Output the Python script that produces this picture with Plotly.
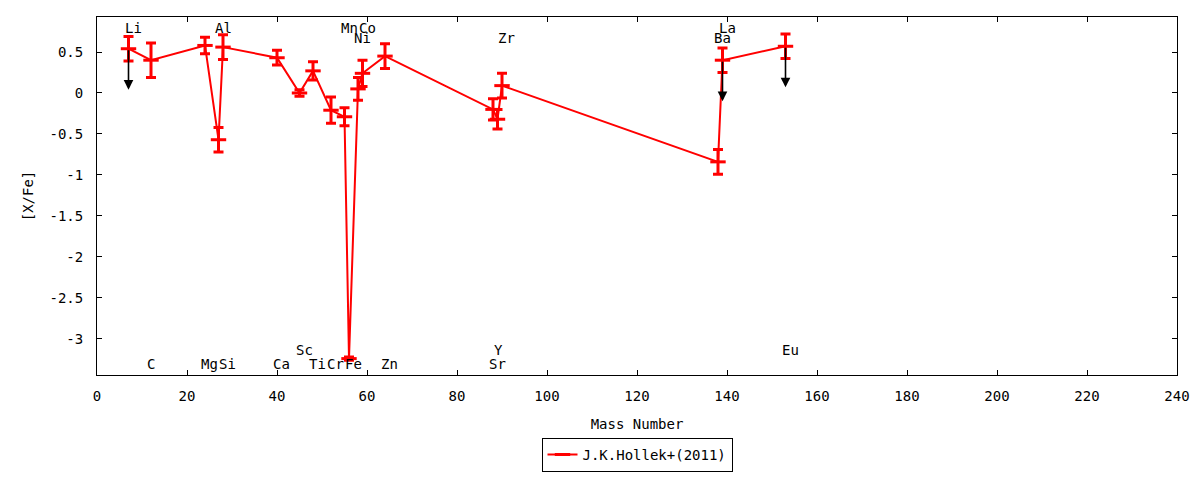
import plotly.graph_objects as go

# Hollek et al. (2011) abundances vs mass number
elements = ["Li", "C", "Mg", "Al", "Si", "Ca", "Sc", "Ti", "Cr", "Mn",
            "Fe", "Ni", "Co", "Zn", "Sr", "Y", "Zr", "Ba", "La", "Eu"]
mass = [7, 12, 24, 27, 28, 40, 45, 48, 52, 55,
        56, 58, 59, 64, 88, 89, 90, 138, 139, 153]
x_fe = [0.54, 0.40, 0.58, -0.57, 0.56, 0.43, 0.0, 0.27, -0.21, -0.29,
        -3.24, 0.05, 0.24, 0.45, -0.20, -0.32, 0.09, -0.84, 0.40, 0.57]
err = [0.15, 0.21, 0.10, 0.15, 0.15, 0.09, 0.04, 0.11, 0.16, 0.11,
       0.02, 0.14, 0.16, 0.15, 0.13, 0.12, 0.15, 0.15, 0.15, 0.15]
upper_limit = ["Li", "La", "Eu"]
# label row for each element: top/bottom, high/low
label_row = ["th", "bl", "bl", "th", "bl", "bl", "bh", "bl", "bl", "th",
             "bl", "tl", "th", "bl", "bl", "bh", "tl", "tl", "th", "bh"]

x_ticks = list(range(0, 241, 20))
y_ticks = [0.5, 0, -0.5, -1, -1.5, -2, -2.5, -3]
y_tick_text = ["0.5", "0", "-0.5", "-1", "-1.5", "-2", "-2.5", "-3"]

ROW_Y = {"th": 0.79, "tl": 0.67, "bh": -3.13, "bl": -3.30}
FONT = "DejaVu Sans Mono"
RED = "#ff0000"

fig = go.Figure()

fig.add_trace(go.Scatter(
    x=mass, y=x_fe,
    mode="lines+markers",
    name="J.K.Hollek+(2011)",
    line=dict(color=RED, width=2),
    marker=dict(symbol="line-ew", size=11, color=RED,
                line=dict(color=RED, width=3)),
    error_y=dict(type="data", array=err, visible=True,
                 color=RED, thickness=3, width=5),
))

# upper-limit arrows
for el, m, v in zip(elements, mass, x_fe):
    if el in upper_limit:
        fig.add_annotation(
            x=m, y=v - 0.5, ax=m, ay=v,
            xref="x", yref="y", axref="x", ayref="y",
            text="", showarrow=True,
            arrowhead=2, arrowsize=1.2, arrowwidth=1.6, arrowcolor="black",
        )

# element labels, left-aligned just before the point
for el, m, row in zip(elements, mass, label_row):
    fig.add_annotation(
        x=m - 1.3, y=ROW_Y[row], xref="x", yref="y",
        text=el, showarrow=False, xanchor="left", yanchor="middle",
        font=dict(family=FONT, size=14, color="black"),
    )

axis_common = dict(
    showline=True, linecolor="black", linewidth=1, mirror="ticks",
    ticks="inside", ticklen=5, tickcolor="black",
    showgrid=False, zeroline=False, automargin=False,
    tickfont=dict(family=FONT, size=14, color="black"),
)

fig.update_xaxes(
    range=[0, 240], tickvals=x_ticks, ticklabelstandoff=8,
    title=dict(text="Mass Number", standoff=16,
               font=dict(family=FONT, size=14, color="black")),
    **axis_common,
)
fig.update_yaxes(
    range=[-3.44, 0.927], tickvals=y_ticks, ticktext=y_tick_text,
    ticklabelstandoff=10,
    title=dict(text="[X/Fe]", standoff=12,
               font=dict(family=FONT, size=14, color="black")),
    **axis_common,
)

# page body has an 8px margin, so shrink the figure to keep the plot box in place
fig.update_layout(
    width=1184, height=464,
    margin=dict(l=89, r=15, t=9, b=97),
    plot_bgcolor="white", paper_bgcolor="white",
    showlegend=True,
    legend=dict(
        x=0.5, y=0.0, xanchor="center", yanchor="bottom",
        xref="paper", yref="container",
        bordercolor="black", borderwidth=1, bgcolor="white",
        font=dict(family=FONT, size=14, color="black"),
    ),
)

fig.write_html("out.html")
